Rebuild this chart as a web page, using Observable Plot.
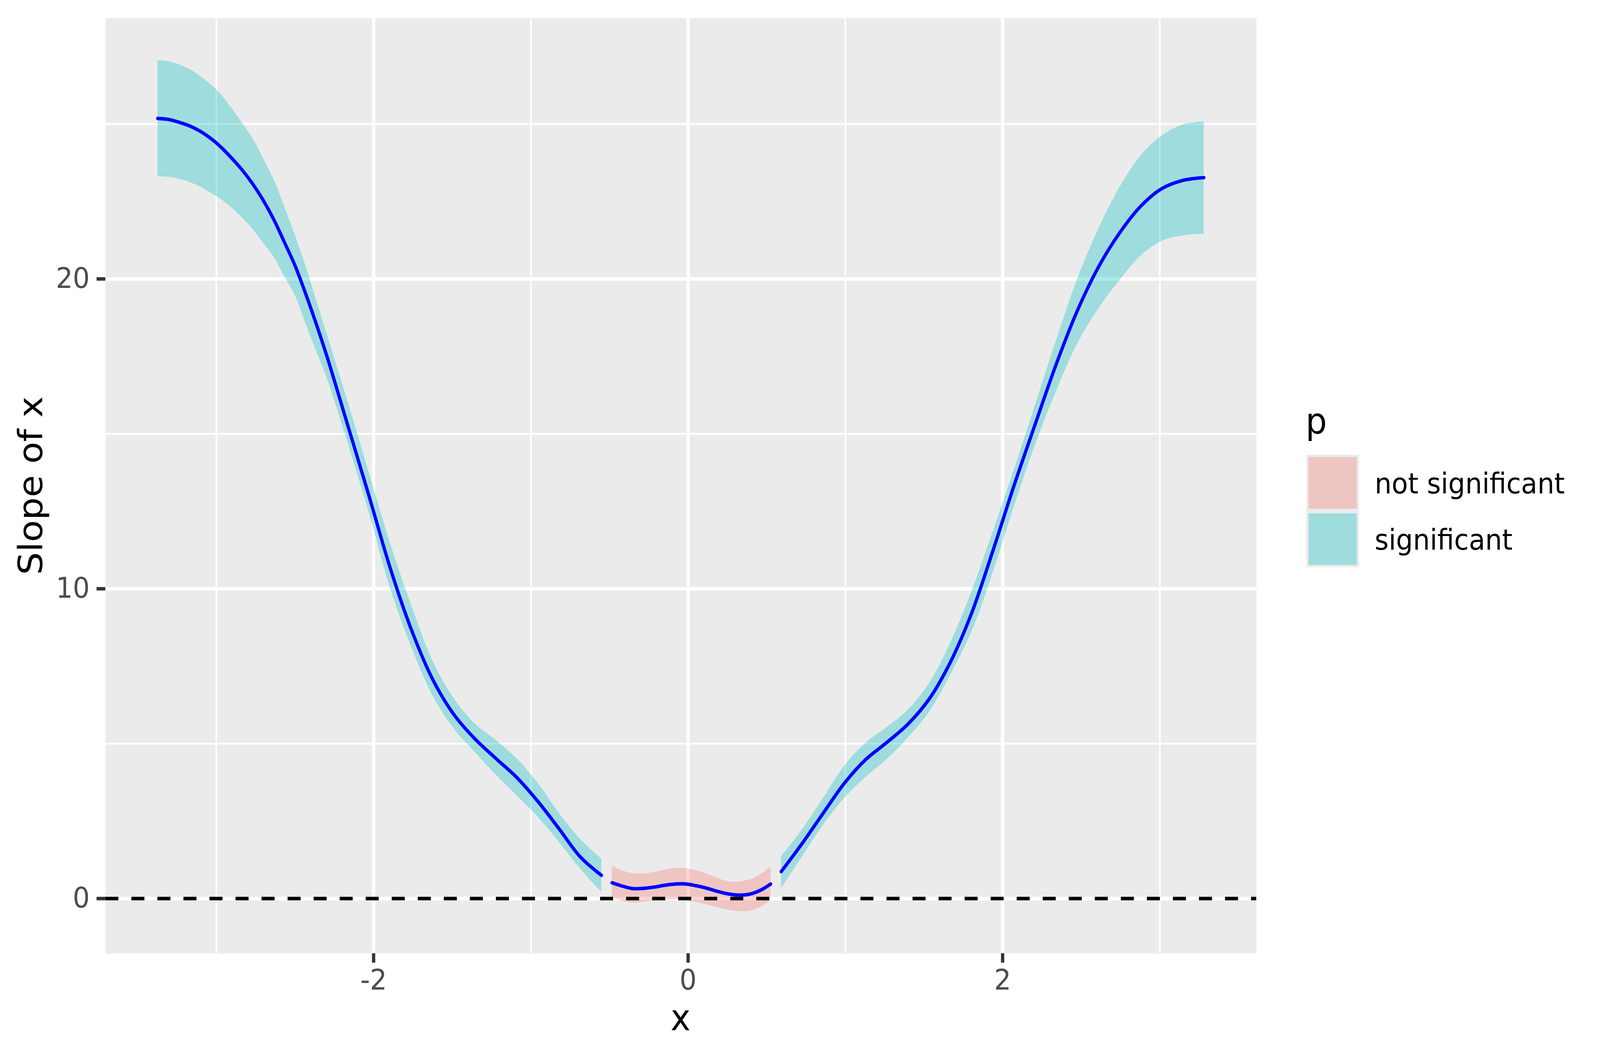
<!DOCTYPE html>
<html>
<head>
<meta charset="utf-8">
<script src="https://cdn.jsdelivr.net/npm/d3@7"></script>
<script src="https://cdn.jsdelivr.net/npm/@observablehq/plot@0.6"></script>
<style>
  html, body { margin: 0; padding: 0; background: white; overflow: hidden; }
  #chart svg { display: block; }
</style>
</head>
<body>
<div id="chart"></div>
<script>
// values
const xLeft     = [-3.373, -3.306, -3.239, -3.171, -3.104, -3.037, -2.970, -2.903, -2.835, -2.768, -2.701, -2.634, -2.567, -2.499, -2.432, -2.365, -2.298, -2.163, -2.029, -1.894, -1.760, -1.625, -1.491, -1.357, -1.222, -1.088, -0.953, -0.819, -0.685, -0.551];
const fitLeft   = [25.18, 25.15, 25.06, 24.94, 24.77, 24.54, 24.25, 23.90, 23.51, 23.06, 22.53, 21.91, 21.18, 20.42, 19.52, 18.55, 17.52, 15.25, 12.99, 10.66, 8.68, 7.08, 5.95, 5.16, 4.52, 3.90, 3.12, 2.24, 1.34, 0.75];
const upperLeft = [27.05, 27.02, 26.92, 26.77, 26.55, 26.28, 25.95, 25.51, 25.03, 24.53, 23.88, 23.20, 22.33, 21.40, 20.42, 19.32, 18.23, 16.02, 13.74, 11.46, 9.47, 7.68, 6.47, 5.65, 5.11, 4.51, 3.71, 2.75, 1.92, 1.28];
const lowerLeft = [23.31, 23.29, 23.23, 23.12, 22.98, 22.78, 22.57, 22.30, 21.97, 21.60, 21.15, 20.70, 20.08, 19.46, 18.55, 17.68, 16.81, 14.68, 12.45, 10.01, 8.12, 6.55, 5.49, 4.73, 3.99, 3.32, 2.62, 1.81, 0.95, 0.21];

const xMid     = [-0.484, -0.417, -0.349, -0.282, -0.215, -0.148, -0.081, -0.013, 0.054, 0.121, 0.188, 0.256, 0.323, 0.390, 0.457, 0.525];
const fitMid   = [0.51, 0.40, 0.32, 0.33, 0.37, 0.43, 0.47, 0.47, 0.41, 0.33, 0.23, 0.15, 0.11, 0.14, 0.26, 0.47];
const upperMid = [1.05, 0.90, 0.81, 0.81, 0.85, 0.93, 0.98, 0.97, 0.90, 0.79, 0.66, 0.55, 0.54, 0.61, 0.77, 1.03];
const lowerMid = [0.05, -0.08, -0.14, -0.11, -0.07, -0.05, -0.03, -0.06, -0.12, -0.20, -0.28, -0.37, -0.41, -0.40, -0.28, -0.06];

const xRight     = [0.592, 0.727, 0.861, 0.995, 1.130, 1.264, 1.398, 1.533, 1.667, 1.802, 1.936, 2.070, 2.205, 2.339, 2.474, 2.608, 2.742, 2.877, 3.011, 3.146, 3.280];
const fitRight   = [0.87, 1.79, 2.77, 3.73, 4.49, 5.04, 5.63, 6.44, 7.62, 9.20, 11.19, 13.29, 15.28, 17.22, 18.96, 20.37, 21.47, 22.34, 22.91, 23.18, 23.27];
const upperRight = [1.36, 2.24, 3.26, 4.29, 5.03, 5.53, 6.09, 6.95, 8.25, 9.90, 11.82, 13.80, 15.90, 17.99, 19.98, 21.60, 22.94, 23.97, 24.62, 24.98, 25.08];
const lowerRight = [0.33, 1.37, 2.39, 3.25, 3.92, 4.50, 5.19, 6.02, 7.22, 8.60, 10.49, 12.61, 14.62, 16.36, 17.90, 19.03, 19.94, 20.74, 21.22, 21.40, 21.45];

const pLevels = ["not significant", "significant"];
const pColors = ["#F8766D", "#00BFC4"];

const xMajor = [-2, 0, 2];
const xMinor = [-3, -1, 1, 3];
const yMajor = [0, 10, 20];
const yMinor = [5, 15, 25];

const rows = [];
const addSegment = (seg, p, xs, fit, lo, hi) => {
  xs.forEach((x, i) => rows.push({seg, p, x, fit: fit[i], lower: lo[i], upper: hi[i]}));
};
addSegment("left", "significant", xLeft, fitLeft, lowerLeft, upperLeft);
addSegment("mid", "not significant", xMid, fitMid, lowerMid, upperMid);
addSegment("right", "significant", xRight, fitRight, lowerRight, upperRight);

const W = 4375, H = 2703;
const lw = 8.9;        // ggplot linewidth 0.5 at this resolution
const ribbonAlpha = 0.32;

const chart = Plot.plot({
  width: W,
  height: H,
  marginLeft: 288,
  marginRight: W - 3435,
  marginTop: 46,
  marginBottom: H - 2440,
  style: {fontFamily: "DejaVu Sans", background: "white"},
  x: {domain: [-3.705, 3.614]},
  y: {domain: [-1.772, 28.417]},
  color: {domain: pLevels, range: pColors},
  marks: [
    Plot.frame({fill: "#EBEBEB", stroke: "none"}),
    Plot.ruleX(xMinor, {stroke: "white", strokeWidth: lw / 2}),
    Plot.ruleY(yMinor, {stroke: "white", strokeWidth: lw / 2}),
    Plot.ruleX(xMajor, {stroke: "white", strokeWidth: lw}),
    Plot.ruleY(yMajor, {stroke: "white", strokeWidth: lw}),
    Plot.areaY(rows, {x: "x", y1: "lower", y2: "upper", z: "seg", fill: "p",
                      fillOpacity: ribbonAlpha, curve: "catmull-rom"}),
    Plot.ruleY([0], {stroke: "black", strokeWidth: lw, strokeDasharray: `${4 * lw},${4 * lw}`}),
    Plot.line(rows, {x: "x", y: "fit", z: "seg", stroke: "#0000FF", strokeWidth: lw,
                     curve: "catmull-rom"}),
    Plot.axisX({ticks: xMajor, tickFormat: d => String(d), tickSize: 24, tickPadding: 17,
                fontSize: 73, stroke: "#333333", strokeWidth: lw, fill: "#4D4D4D", label: null}),
    Plot.axisY({ticks: yMajor, tickFormat: d => String(d), tickSize: 24, tickPadding: 19,
                fontSize: 73, stroke: "#333333", strokeWidth: lw, fill: "#4D4D4D", label: null})
  ]
});

const svg = d3.select(chart);

// axis titles
svg.append("text")
  .attr("x", 1861).attr("y", 2637)
  .attr("text-anchor", "middle").attr("font-size", 92).attr("fill", "black")
  .text("x");
svg.append("text")
  .attr("transform", "translate(115,1243) rotate(-90)")
  .attr("text-anchor", "middle").attr("font-size", 92).attr("fill", "black")
  .text("Slope of x");

// legend
const color = chart.scale("color");
const leg = svg.append("g").attr("text-anchor", "start");
leg.append("text").attr("x", 3570).attr("y", 1110)
  .attr("font-size", 92).attr("fill", "black").text("p");
leg.append("rect").attr("x", 3572).attr("y", 1164).attr("width", 144).attr("height", 288).attr("fill", "#EBEBEB");
color.domain.forEach((p, i) => {
  leg.append("rect")
    .attr("x", 3578).attr("y", 1170 + 144 * i).attr("width", 132).attr("height", 132)
    .attr("fill", color.apply(p)).attr("fill-opacity", ribbonAlpha);
  leg.append("text")
    .attr("x", 3759).attr("y", 1263 + 144 * i)
    .attr("font-size", 73).attr("fill", "black")
    .text(p);
});

// fill the whole window whatever its real size
svg.attr("viewBox", `0 0 ${W} ${H}`)
  .attr("preserveAspectRatio", "none")
  .style("width", "100vw")
  .style("height", "100vh")
  .style("max-width", "none");

document.getElementById("chart").append(chart);
</script>
</body>
</html>
